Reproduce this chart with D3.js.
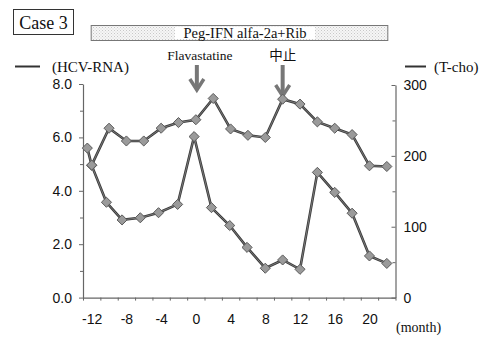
<!DOCTYPE html>
<html><head><meta charset="utf-8">
<script src="https://cdn.jsdelivr.net/npm/d3@7"></script>
<style>body{margin:0;background:#fff}svg{display:block}</style>
</head><body>
<svg id="c" width="489" height="337"></svg>
<script>
// ---- data ----
const hcvMonths = [-12.5, -12, -10.3, -8.5, -6.4, -4.3, -2.1, -0.2, 1.8, 3.9, 5.9, 8, 10, 12, 14, 16, 18, 20, 22];
const hcvValues = [5.6, 4.95, 3.57, 2.91, 2.99, 3.18, 3.49, 6.03, 3.37, 2.70, 1.88, 1.10, 1.41, 1.06, 4.69, 3.94, 3.16, 1.56, 1.28];
const tchoMonths = [-12, -10, -8, -6, -4, -2, 0, 2, 4, 6, 8, 10, 12, 14, 16, 18, 20, 22];
const tchoValues = [187, 239, 221, 221, 239, 247, 251, 281, 238, 229, 226, 280, 273, 248, 239, 230, 186, 185];
const xLabelTicks = [-12, -8, -4, 0, 4, 8, 12, 16, 20];
const xMinorTicks = [-13, -11, -9, -7, -5, -3, -1, 1, 3, 5, 7, 9, 11, 13, 15, 17, 19, 21, 23];
const leftTicks = [0, 2, 4, 6, 8];
const leftMinor = [1, 3, 5, 7];
const rightTicks = [0, 100, 200, 300];
const rightMinor = [50, 150, 250];
const events = [{label: "Flavastatine", month: 0}, {label: "中止", month: 10}];
const therapy = {label: "Peg-IFN alfa-2a+Rib", from: -12, to: 22};

const svg = d3.select("#c");
const x = d3.scaleLinear().domain([-13, 23]).range([83, 395.5]);
const yL = d3.scaleLinear().domain([0, 8]).range([297.6, 84]);
const yR = d3.scaleLinear().domain([0, 300]).range([297.6, 85]);
const axisCol = "#666";
const serif = "'Liberation Serif','DejaVu Serif',serif";
const sans = "'Liberation Sans',Arial,sans-serif";

// pattern for therapy bar
const defs = svg.append("defs");
const pat = defs.append("pattern").attr("id","stip").attr("width",3).attr("height",3).attr("patternUnits","userSpaceOnUse");
pat.append("rect").attr("width",3).attr("height",3).attr("fill","#f6f6f6");
pat.append("rect").attr("x",0).attr("y",0).attr("width",1).attr("height",1).attr("fill","#c8c8c8");
pat.append("rect").attr("x",1.5).attr("y",1.5).attr("width",1).attr("height",1).attr("fill","#d4d4d4");

// Case box
svg.append("rect").attr("x",13.5).attr("y",9.5).attr("width",60).attr("height",25).attr("fill","#fff").attr("stroke","#333").attr("stroke-width",1);
svg.append("text").attr("x",43.5).attr("y",28.5).attr("text-anchor","middle").attr("font-family",serif).attr("font-size",18).attr("fill","#111").text("Case 3");

// therapy bar
const bx0 = x(therapy.from) - 0.5, bx1 = x(therapy.to) + 1;
svg.append("rect").attr("x",bx0).attr("y",25.5).attr("width",bx1-bx0).attr("height",15).attr("fill","url(#stip)").attr("stroke","#777").attr("stroke-width",1);
const tcx = 245;
svg.append("rect").attr("x",tcx-70).attr("y",27).attr("width",140).attr("height",12).attr("fill","#fff");
svg.append("text").attr("x",tcx).attr("y",37.5).attr("text-anchor","middle").attr("font-family",serif).attr("font-size",14.5).attr("fill","#111").text(therapy.label);

// event labels and arrows
const arrowEnds = [90, 96];
events.forEach((e,i) => {
  const ex = x(e.month) + (i===0?1:0);
  svg.append("text").attr("x", ex + (i===0?3:0)).attr("y",60).attr("text-anchor","middle").attr("font-family", i===0?serif:"'Noto Sans CJK JP',sans-serif").attr("font-size", 13.5).attr("fill","#111").text(e.label);
  const y0 = 65, y1 = arrowEnds[i];
  svg.append("line").attr("x1",ex).attr("x2",ex).attr("y1",y0).attr("y2",y1-2).attr("stroke","#777").attr("stroke-width",4);
  svg.append("path").attr("d",`M${ex-7},${y1-11}L${ex},${y1}L${ex+7},${y1-11}`).attr("fill","none").attr("stroke","#777").attr("stroke-width",3.5).attr("stroke-linejoin","miter");
});

// legends
svg.append("line").attr("x1",15).attr("x2",40).attr("y1",66.5).attr("y2",66.5).attr("stroke","#333").attr("stroke-width",2);
svg.append("text").attr("x",52).attr("y",72).attr("font-family",serif).attr("font-size",15).attr("fill","#111").text("(HCV-RNA)");
svg.append("line").attr("x1",405).attr("x2",426).attr("y1",66.5).attr("y2",66.5).attr("stroke","#333").attr("stroke-width",2);
svg.append("text").attr("x",434).attr("y",72).attr("font-family",serif).attr("font-size",15).attr("fill","#111").text("(T-cho)");

// axes
function styleAxis(g){
  g.select(".domain").attr("stroke",axisCol).attr("stroke-width",1.2);
  g.selectAll(".tick line").attr("stroke",axisCol);
  g.selectAll(".tick text").attr("font-family",sans).attr("font-size",14).attr("fill","#111");
}
const xb = 297.6;
svg.append("g").attr("transform",`translate(0,${xb})`)
  .call(d3.axisBottom(x).tickValues(xMinorTicks).tickSize(3).tickSizeOuter(0).tickFormat(""))
  .call(styleAxis);
svg.append("g").attr("transform",`translate(0,${xb})`)
  .call(d3.axisBottom(x).tickValues(xLabelTicks).tickSize(0).tickPadding(16).tickFormat(d => String(d)))
  .call(g => g.select(".domain").remove())
  .call(styleAxis);

svg.append("g").attr("transform",`translate(${x(-13)},0)`)
  .call(d3.axisLeft(yL).tickValues(leftTicks).tickSize(4).tickSizeOuter(0).tickPadding(7).tickFormat(d => d.toFixed(1)))
  .call(styleAxis);
svg.append("g").attr("transform",`translate(${x(-13)},0)`)
  .call(d3.axisLeft(yL).tickValues(leftMinor).tickSize(3).tickFormat(""))
  .call(g => g.select(".domain").remove())
  .call(styleAxis);

svg.append("g").attr("transform",`translate(${x(23)},0)`)
  .call(d3.axisRight(yR).tickValues(rightTicks).tickSize(-4).tickSizeOuter(0).tickPadding(8).tickFormat(d => String(d)))
  .call(styleAxis);
svg.append("g").attr("transform",`translate(${x(23)},0)`)
  .call(d3.axisRight(yR).tickValues(rightMinor).tickSize(-3).tickFormat(""))
  .call(g => g.select(".domain").remove())
  .call(styleAxis);

svg.append("text").attr("x",396).attr("y",332).attr("font-family",serif).attr("font-size",14).attr("fill","#111").text("(month)");

// series
function drawSeries(months, values, yScale){
  const pts = months.map((m,i)=>[x(m), yScale(values[i])]);
  svg.append("path").attr("d", d3.line()(pts)).attr("fill","none").attr("stroke","#3a3a3a").attr("stroke-width",2.6);
  svg.append("path").attr("d", d3.line()(pts)).attr("fill","none").attr("stroke","#888").attr("stroke-width",0.8);
  const sym = d3.symbol().type(d3.symbolDiamond2).size(65);
  svg.append("g").selectAll("path").data(pts).join("path")
    .attr("transform", d=>`translate(${d[0]},${d[1]})`)
    .attr("d", sym).attr("fill","#9a9a9a").attr("stroke","#5a5a5a").attr("stroke-width",1);
}
drawSeries(hcvMonths, hcvValues, yL);
drawSeries(tchoMonths, tchoValues, yR);
</script>
</body></html>
